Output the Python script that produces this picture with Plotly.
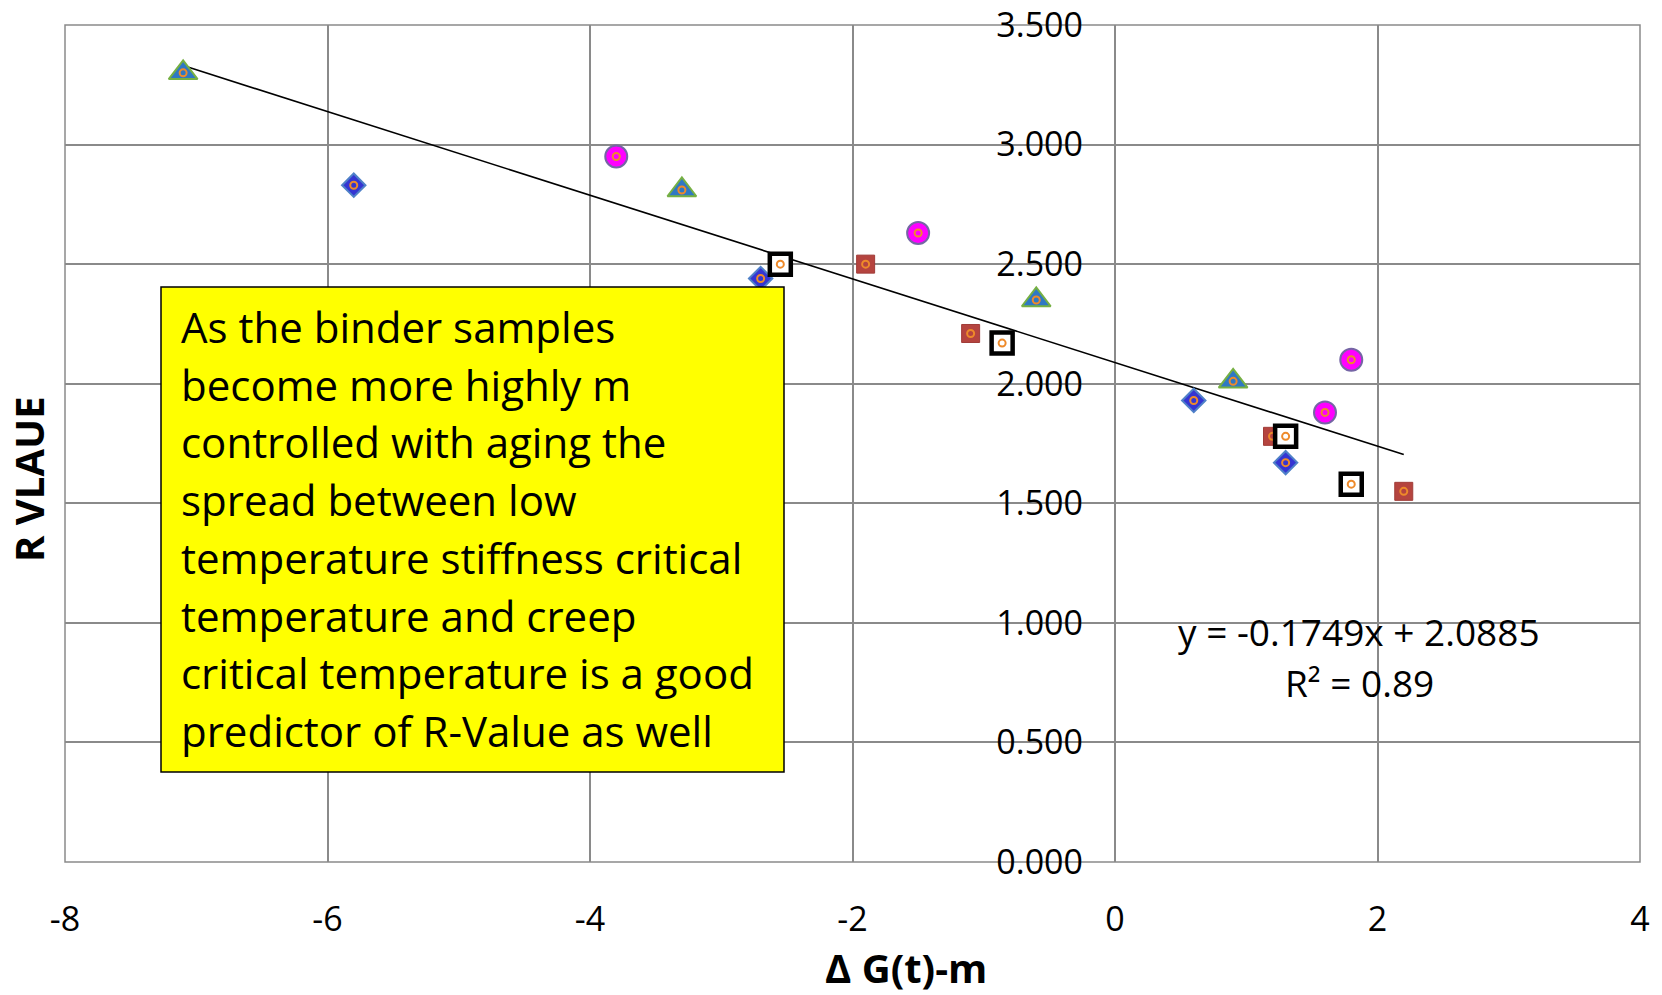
import plotly.graph_objects as go

# ---------------- data ----------------
tri_x = [-7.1, -3.3, -0.6, 0.9]
tri_y = [3.30, 2.81, 2.35, 2.01]
dia_x = [-5.8, -2.7, 0.6, 1.3]
dia_y = [2.83, 2.44, 1.93, 1.67]
cir_x = [-3.8, -1.5, 1.8, 1.6]
cir_y = [2.95, 2.63, 2.10, 1.88]
sq_x = [-1.9, -1.1, 1.2, 2.2]
sq_y = [2.50, 2.21, 1.78, 1.55]
bsq_x = [-2.55, -0.86, 1.3, 1.8]
bsq_y = [2.50, 2.17, 1.78, 1.58]

slope = -0.1749
intercept = 2.0885
r2 = 0.89
trend_x = [-7.1, 2.2]

x_ticks = [-8, -6, -4, -2, 0, 2, 4]
x_ticktext = ["-8", "-6", "-4", "-2", "0", "2", "4"]
y_ticks = [0, 0.5, 1.0, 1.5, 2.0, 2.5, 3.0, 3.5]

box_lines = [
    "As the binder samples",
    "become more highly m",
    "controlled with aging the",
    "spread between low",
    "temperature stiffness critical",
    "temperature and creep",
    "critical temperature is a good",
    "predictor of R-Value as well",
]

FONT = "Open Sans, sans-serif"
W, H = 1662, 995
L, R, T, B = 65, 22, 25, 133
PW, PH = W - L - R, H - T - B


def px(x):
    return (x - L) / PW


def py(y):
    return (H - B - y) / PH


fig = go.Figure()

# trendline
fig.add_trace(go.Scatter(x=trend_x, y=[slope * v + intercept for v in trend_x],
                         mode="lines", line=dict(color="black", width=1.6),
                         showlegend=False, hoverinfo="skip"))

ring = dict(symbol="circle-open", size=7, color="#EE8A2A", line=dict(width=2, color="#EE8A2A"))

series = [
    (tri_x, tri_y, dict(symbol="triangle-up", size=25, color="#2F78C4", line=dict(color="#76B043", width=2))),
    (dia_x, dia_y, dict(symbol="diamond", size=18, color="#3535D2", line=dict(color="#4F81C8", width=2))),
    (cir_x, cir_y, dict(symbol="circle", size=22, color="#FF00FF", line=dict(color="#7565A5", width=2))),
    (sq_x, sq_y, dict(symbol="square", size=18, color="#B5443F", line=dict(color="#A03C38", width=1))),
    (bsq_x, bsq_y, dict(symbol="square", size=21, color="white", line=dict(color="black", width=4.5))),
]
for xs, ys, mk in series:
    fig.add_trace(go.Scatter(x=xs, y=ys, mode="markers", marker=mk, showlegend=False))
    fig.add_trace(go.Scatter(x=xs, y=ys, mode="markers", marker=ring, showlegend=False))

annotations = []
# text box lines
for i, line in enumerate(box_lines):
    annotations.append(dict(xref="paper", yref="paper", x=px(179), y=py(326.5 + 57.7 * i),
                            xanchor="left", yanchor="middle", showarrow=False, text=line,
                            font=dict(family=FONT, size=42, color="black")))
# equation
annotations.append(dict(xref="paper", yref="paper", x=px(1359), y=py(631), xanchor="center",
                        yanchor="middle", showarrow=False,
                        text=f"y = {slope:.4f}x + {intercept:.4f}",
                        font=dict(family=FONT, size=37, color="black")))
annotations.append(dict(xref="paper", yref="paper", x=px(1359), y=py(682), xanchor="center",
                        yanchor="middle", showarrow=False, text=f"R² = {r2:.2f}",
                        font=dict(family=FONT, size=37, color="black")))
# axis titles
annotations.append(dict(xref="paper", yref="paper", x=px(906), y=py(967), xanchor="center",
                        yanchor="middle", showarrow=False, text="<b>Δ G(t)-m</b>",
                        font=dict(family=FONT, size=40, color="black")))
annotations.append(dict(xref="paper", yref="paper", x=px(29), y=py(479), xanchor="center",
                        yanchor="middle", showarrow=False, text="<b>R VLAUE</b>", textangle=-90,
                        font=dict(family=FONT, size=40, color="black")))

shapes = [
    dict(type="rect", xref="paper", yref="paper", x0=0, x1=1, y0=0, y1=1,
         line=dict(color="#8A8A8A", width=1.5), layer="below"),
    dict(type="rect", xref="paper", yref="paper", x0=px(161), x1=px(784), y0=py(772), y1=py(287),
         line=dict(color="black", width=1.5), fillcolor="#FFFF00", layer="above"),
]

fig.update_layout(
    width=W, height=H,
    margin=dict(l=L, r=R, t=T, b=B, autoexpand=False),
    paper_bgcolor="white", plot_bgcolor="white",
    font=dict(family=FONT, size=34, color="black"),
    annotations=annotations, shapes=shapes,
    xaxis=dict(range=[-8, 4], tickvals=x_ticks, ticktext=x_ticktext, showgrid=True,
               gridcolor="#8A8A8A", gridwidth=1.5, automargin=False,
               zeroline=False, showline=False, ticks="", ticklabelstandoff=34,
               tickfont=dict(family=FONT, size=34, color="black")),
    yaxis=dict(range=[0, 3.5], tickvals=y_ticks, tickformat=".3f", showgrid=True,
               gridcolor="#8A8A8A", gridwidth=1.5, zeroline=False, showline=False,
               automargin=False,
               anchor="free", position=8 / 12, ticks="", ticklabelstandoff=32,
               tickfont=dict(family=FONT, size=34, color="black")),
)

fig.write_html("out.html")
